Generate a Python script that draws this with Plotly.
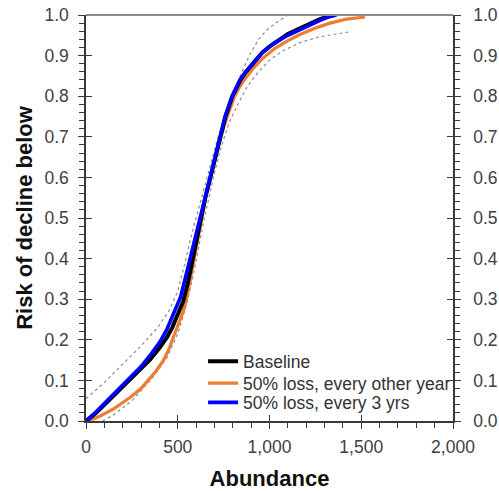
import plotly.graph_objects as go

# Cumulative risk of declining below a given abundance
baseline_x = [0, 50, 100, 150, 229, 300, 350, 400, 440, 470, 500, 530, 555, 580, 600, 623, 650, 678,
              704, 730, 760, 798, 820, 842, 868, 896, 927, 960, 1000, 1040, 1100, 1166, 1220, 1275,
              1346]
baseline_y = [0, 0.018, 0.04, 0.062, 0.097, 0.128, 0.152, 0.18, 0.205, 0.23, 0.26, 0.295, 0.34,
              0.395, 0.445, 0.5, 0.55, 0.6, 0.65, 0.7, 0.75, 0.8, 0.822, 0.84, 0.858, 0.873, 0.89,
              0.907, 0.922, 0.935, 0.953, 0.967, 0.979, 0.99, 1.0]

loss2_x = [0, 40, 80, 150, 240, 300, 338, 380, 420, 450, 475, 505, 530, 548, 568, 589, 608, 628,
           652, 678, 706, 735, 770, 810, 840, 870, 910, 960, 1030, 1100, 1166, 1250, 1330, 1420,
           1520]
loss2_y = [0, 0.005, 0.013, 0.03, 0.058, 0.08, 0.1, 0.122, 0.148, 0.175, 0.205, 0.24, 0.27, 0.3,
           0.35, 0.4, 0.45, 0.5, 0.55, 0.6, 0.65, 0.7, 0.75, 0.8, 0.825, 0.845, 0.868, 0.892,
           0.918, 0.937, 0.952, 0.968, 0.98, 0.99, 0.995]

loss3_x = [0, 50, 100, 150, 229, 300, 350, 403, 440, 470, 495, 515, 540, 567, 595, 621, 648, 676,
           703, 728, 758, 796, 818, 839, 865, 894, 925, 959, 1000, 1030, 1100, 1166, 1220, 1275,
           1320, 1365]
loss3_y = [0, 0.02, 0.043, 0.066, 0.1, 0.134, 0.162, 0.195, 0.225, 0.255, 0.28, 0.305, 0.35, 0.4,
           0.45, 0.5, 0.55, 0.6, 0.65, 0.7, 0.75, 0.8, 0.822, 0.84, 0.857, 0.872, 0.89, 0.907,
           0.922, 0.932, 0.95, 0.963, 0.975, 0.987, 0.995, 1.0]

# Confidence bounds for the baseline
upper_x = [0, 100, 200, 300, 390, 450, 500, 540, 570, 600, 630, 660, 690, 720, 755, 795, 840, 890,
           940, 990, 1040, 1100]
upper_y = [0.055, 0.095, 0.14, 0.185, 0.23, 0.27, 0.32, 0.39, 0.45, 0.5, 0.55, 0.6, 0.65, 0.7,
           0.75, 0.8, 0.85, 0.9, 0.94, 0.965, 0.982, 1.0]

lower_x = [90, 150, 250, 360, 440, 500, 550, 585, 615, 645, 675, 705, 740, 780, 828, 880, 940,
           1003, 1074, 1166, 1259, 1350, 1428]
lower_y = [0, 0.015, 0.05, 0.105, 0.155, 0.215, 0.29, 0.36, 0.43, 0.5, 0.56, 0.62, 0.68, 0.735,
           0.78, 0.825, 0.86, 0.89, 0.912, 0.932, 0.945, 0.953, 0.958]

x_ticks = [0, 500, 1000, 1500, 2000]
x_tick_text = ["0", "500", "1,000", "1,500", "2,000"]
y_ticks = [round(i * 0.1, 1) for i in range(11)]
y_tick_text = [f"{v:.1f}" for v in y_ticks]

FONT = "Liberation Sans, Arial, sans-serif"
TICK_FONT = dict(family=FONT, size=17.5, color="#404040")
AXIS_COLOR = "#3a3a3a"
TITLE_FONT = dict(family=FONT, size=22, color="#111111")
LEGEND_FONT = dict(family=FONT, size=17.5, color="#333333")

fig = go.Figure()

for bx, by in ((upper_x, upper_y), (lower_x, lower_y)):
    fig.add_trace(go.Scatter(x=bx, y=by, mode="lines", showlegend=False, hoverinfo="skip",
                             line=dict(color="#8c8c8c", width=1.2, dash="dot")))

# Each series gets its own legend box so the rows can sit tightly stacked
fig.add_trace(go.Scatter(x=loss2_x, y=loss2_y, mode="lines", name="50% loss, every other year",
                         line=dict(color="#ED7D31", width=3.2), legend="legend2"))
fig.add_trace(go.Scatter(x=baseline_x, y=baseline_y, mode="lines", name="Baseline",
                         line=dict(color="#000000", width=4), legend="legend"))
fig.add_trace(go.Scatter(x=loss3_x, y=loss3_y, mode="lines", name="50% loss, every 3 yrs",
                         line=dict(color="#0000FF", width=3.6), legend="legend3"))

# Placeholder traces so the overlay axes (inner tick halves, right-hand labels) get drawn
fig.add_trace(go.Scatter(x=[None], y=[None], xaxis="x2", yaxis="y", showlegend=False, hoverinfo="skip"))
fig.add_trace(go.Scatter(x=[None], y=[None], xaxis="x", yaxis="y2", showlegend=False, hoverinfo="skip"))
fig.add_trace(go.Scatter(x=[None], y=[None], xaxis="x", yaxis="y3", showlegend=False, hoverinfo="skip"))


def legend_box(ypos):
    return dict(x=0.319, y=ypos, xanchor="left", yanchor="middle",
                bgcolor="rgba(0,0,0,0)", borderwidth=0, font=LEGEND_FONT, itemwidth=30)


fig.update_layout(
    width=499, height=491,
    margin=dict(l=86, r=46, t=15, b=70, autoexpand=False),
    paper_bgcolor="white", plot_bgcolor="white",
    font=dict(family=FONT, color="#404040"),
    xaxis=dict(
        range=[0, 2000], tickvals=x_ticks, ticktext=x_tick_text, tickfont=TICK_FONT,
        ticks="outside", ticklen=6, tickwidth=1.3, tickcolor=AXIS_COLOR, ticklabelstandoff=3,
        minor=dict(dtick=100, ticks="outside", ticklen=5, tickcolor=AXIS_COLOR, tickwidth=1),
        showline=True, linecolor=AXIS_COLOR, linewidth=1.5, showgrid=False, zeroline=False,
        automargin=False,
        title=dict(text="<b>Abundance</b>", font=TITLE_FONT, standoff=15),
    ),
    xaxis2=dict(
        overlaying="x", anchor="y", side="bottom", range=[0, 2000], tickvals=x_ticks,
        showticklabels=False, ticks="inside", ticklen=6, tickwidth=1.3, tickcolor=AXIS_COLOR,
        showline=False, showgrid=False, zeroline=False, automargin=False,
    ),
    yaxis=dict(
        range=[0, 1], tickvals=y_ticks, ticktext=y_tick_text, tickfont=TICK_FONT,
        ticks="outside", ticklen=6, tickwidth=1.3, tickcolor=AXIS_COLOR, ticklabelstandoff=6,
        minor=dict(dtick=0.02, ticks="outside", ticklen=5, tickcolor=AXIS_COLOR, tickwidth=1),
        showline=True, linecolor=AXIS_COLOR, linewidth=1.5, showgrid=False, zeroline=False,
        automargin=False,
        title=dict(text="<b>Risk of decline below</b>", font=TITLE_FONT, standoff=6),
    ),
    yaxis2=dict(
        overlaying="y", anchor="x", side="right", range=[0, 1], tickvals=y_ticks,
        ticktext=y_tick_text, tickfont=TICK_FONT,
        ticks="outside", ticklen=6, tickwidth=1.3, tickcolor=AXIS_COLOR, ticklabelstandoff=9,
        minor=dict(dtick=0.02, ticks="outside", ticklen=5, tickcolor=AXIS_COLOR, tickwidth=1),
        showline=True, linecolor=AXIS_COLOR, linewidth=1.5, showgrid=False, zeroline=False,
        automargin=False,
    ),
    yaxis3=dict(
        overlaying="y", anchor="x", side="left", range=[0, 1], tickvals=y_ticks,
        showticklabels=False, ticks="inside", ticklen=6, tickwidth=1.3, tickcolor=AXIS_COLOR,
        mirror="ticks", showline=False, showgrid=False, zeroline=False, automargin=False,
    ),
    legend=legend_box(0.147),
    legend2=legend_box(0.093),
    legend3=legend_box(0.0455),
    shapes=[dict(type="line", xref="paper", yref="paper", x0=0, x1=1, y0=1, y1=1,
                 line=dict(color="#8a8a8a", width=2))],
)

fig.write_html("out.html")
